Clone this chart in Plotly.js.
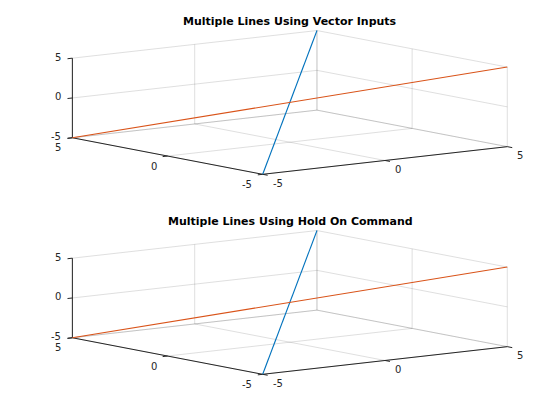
<!DOCTYPE html>
<html>
<head>
<meta charset="utf-8">
<script src="https://cdn.plot.ly/plotly-3.0.1.min.js"></script>
<style>
  html, body { margin: 0; padding: 0; background: #fff; }
  #chart { width: 560px; height: 420px; }
</style>
</head>
<body>
<div id="chart"></div>
<script>
// Endpoints of the two straight 3-D lines (same data in both panels)
var xLine = [-5, 5];
var yLine1 = [-5, 5];
var yLine2 = [5, -5];
var zLine = [-5, 5];

// Axis limits and ticks shared by x, y and z
var axisLimits = [-5, 5];
var tickValues = [-5, 0, 5];
var tickLabels = ['-5', '0', '5'];

var panelTitles = ['Multiple Lines Using Vector Inputs', 'Multiple Lines Using Hold On Command'];

var lineColors = ['#0072BD', '#D95319'];
var axisColor = '#262626';
var gridColor = 'rgba(38,38,38,0.15)';

// ---- 3-D view: orthographic projection, stretched to fill the axes box ----
var viewAz = 232.5;          // degrees, direction of the viewer around z
var viewEl = 8.47;           // degrees above the floor
var boxStretch = [1, 1.014, 0.261];
var pxPerUnit = 308.3;       // screen pixels per projected unit
var frontAnchor = [262.7, 174.3]; // pixel spot of the front-bottom corner inside a panel
var panelHeight = 200;

var phi = viewAz * Math.PI / 180, th = viewEl * Math.PI / 180;
var span = axisLimits[1] - axisLimits[0];
var sx = boxStretch[0] / span, sy = boxStretch[1] / span, sz = boxStretch[2] / span;

function proj(x, y, z) {
  var u = -Math.sin(phi) * sx * x + Math.cos(phi) * sy * y;
  var v = -Math.sin(th) * Math.cos(phi) * sx * x - Math.sin(th) * Math.sin(phi) * sy * y + Math.cos(th) * sz * z;
  return [u, v];
}

// Turns a list of 3-D polylines (null separated) into projected x/y arrays
function projectPath(xs, ys, zs) {
  var u = [], v = [];
  for (var i = 0; i < xs.length; i++) {
    if (xs[i] === null) { u.push(null); v.push(null); continue; }
    var p = proj(xs[i], ys[i], zs[i]);
    u.push(p[0]); v.push(p[1]);
  }
  return { u: u, v: v };
}

var lo = axisLimits[0], hi = axisLimits[1];

// Grid planes drawn on the three back walls
function gridPlanes() {
  var planes = [];
  var p;
  // floor z = lo
  p = { x: [], y: [], z: [] };
  tickValues.forEach(function (t) {
    p.x.push(t, t, null); p.y.push(lo, hi, null); p.z.push(lo, lo, null);
    p.x.push(lo, hi, null); p.y.push(t, t, null); p.z.push(lo, lo, null);
  });
  planes.push(p);
  // back wall x = hi
  p = { x: [], y: [], z: [] };
  tickValues.forEach(function (t) {
    p.x.push(hi, hi, null); p.y.push(t, t, null); p.z.push(lo, hi, null);
    p.x.push(hi, hi, null); p.y.push(lo, hi, null); p.z.push(t, t, null);
  });
  planes.push(p);
  // back wall y = hi
  p = { x: [], y: [], z: [] };
  tickValues.forEach(function (t) {
    p.x.push(t, t, null); p.y.push(hi, hi, null); p.z.push(lo, hi, null);
    p.x.push(lo, hi, null); p.y.push(hi, hi, null); p.z.push(t, t, null);
  });
  planes.push(p);
  return planes;
}

// Axis lines plus short tick marks
var tickLenX = 0.2, tickLenY = 0.26;
function axisPath() {
  var p = { x: [], y: [], z: [] };
  // x axis along y = lo, z = lo
  p.x.push(lo, hi, null); p.y.push(lo, lo, null); p.z.push(lo, lo, null);
  // y axis along x = lo, z = lo
  p.x.push(lo, lo, null); p.y.push(lo, hi, null); p.z.push(lo, lo, null);
  // z axis along x = lo, y = hi
  p.x.push(lo, lo, null); p.y.push(hi, hi, null); p.z.push(lo, hi, null);
  tickValues.forEach(function (t) {
    p.x.push(t, t, null); p.y.push(lo, lo - tickLenY, null); p.z.push(lo, lo, null);
    p.x.push(lo, lo - tickLenX, null); p.y.push(t, t, null); p.z.push(lo, lo, null);
    p.x.push(lo, lo - tickLenX, null); p.y.push(hi, hi, null); p.z.push(t, t, null);
  });
  return p;
}

var data = [];
var annotations = [];

[0, 1].forEach(function (k) {
  var xa = k === 0 ? 'x' : 'x2', ya = k === 0 ? 'y' : 'y2';
  gridPlanes().forEach(function (g) {
    var q = projectPath(g.x, g.y, g.z);
    data.push({ type: 'scatter', mode: 'lines', x: q.u, y: q.v, xaxis: xa, yaxis: ya,
      line: { color: gridColor, width: 1 }, hoverinfo: 'skip', showlegend: false });
  });
  var a = axisPath();
  var qa = projectPath(a.x, a.y, a.z);
  data.push({ type: 'scatter', mode: 'lines', x: qa.u, y: qa.v, xaxis: xa, yaxis: ya,
    line: { color: axisColor, width: 1 }, hoverinfo: 'skip', showlegend: false });

  var q1 = projectPath(xLine, yLine1, zLine);
  var q2 = projectPath(xLine, yLine2, zLine);
  data.push({ type: 'scatter', mode: 'lines', x: q1.u, y: q1.v, xaxis: xa, yaxis: ya,
    line: { color: lineColors[0], width: 1.1 }, hoverinfo: 'skip', showlegend: false });
  data.push({ type: 'scatter', mode: 'lines', x: q2.u, y: q2.v, xaxis: xa, yaxis: ya,
    line: { color: lineColors[1], width: 1.1 }, hoverinfo: 'skip', showlegend: false });

  var tickFont = { family: 'DejaVu Sans', size: 10, color: axisColor };
  tickValues.forEach(function (t, i) {
    var pz = proj(lo, hi, t), py = proj(lo, t, lo), px = proj(t, lo, lo);
    annotations.push({ xref: xa, yref: ya, x: pz[0], y: pz[1], text: tickLabels[i], showarrow: false,
      xanchor: 'right', yanchor: 'middle', xshift: -9, yshift: 1, font: tickFont });
    annotations.push({ xref: xa, yref: ya, x: py[0], y: py[1], text: tickLabels[i], showarrow: false,
      xanchor: 'right', yanchor: 'middle', xshift: -9, yshift: -10, font: tickFont });
    annotations.push({ xref: xa, yref: ya, x: px[0], y: px[1], text: tickLabels[i], showarrow: false,
      xanchor: 'left', yanchor: 'middle', xshift: 8, yshift: -9, font: tickFont });
  });

  annotations.push({
    text: '<b>' + panelTitles[k] + '</b>', xref: 'paper', yref: 'paper',
    x: 290 / 560, y: 1 - (21 + 200 * k) / 420,
    xanchor: 'center', yanchor: 'middle', showarrow: false,
    font: { family: 'DejaVu Sans', size: 11, color: '#000000' }
  });
});

// Projected-space ranges so the front corner lands on its anchor pixel
var front = proj(lo, lo, lo);
var uRange = [front[0] - frontAnchor[0] / pxPerUnit, front[0] + (560 - frontAnchor[0]) / pxPerUnit];
var vRange = [front[1] - (panelHeight - frontAnchor[1]) / pxPerUnit, front[1] + frontAnchor[1] / pxPerUnit];

function hiddenAxis(range, domain, anchor) {
  return { range: range, domain: domain, anchor: anchor, visible: false, fixedrange: true,
    showgrid: false, zeroline: false };
}

var layout = {
  width: 560, height: 420,
  margin: { l: 0, r: 0, t: 0, b: 0 },
  paper_bgcolor: '#ffffff', plot_bgcolor: 'rgba(0,0,0,0)',
  showlegend: false,
  xaxis: hiddenAxis(uRange, [0, 1], 'y'),
  yaxis: hiddenAxis(vRange, [220 / 420, 1], 'x'),
  xaxis2: hiddenAxis(uRange, [0, 1], 'y2'),
  yaxis2: hiddenAxis(vRange, [20 / 420, 220 / 420], 'x2'),
  annotations: annotations
};

Plotly.newPlot('chart', data, layout, { staticPlot: true, displayModeBar: false });
</script>
</body>
</html>
